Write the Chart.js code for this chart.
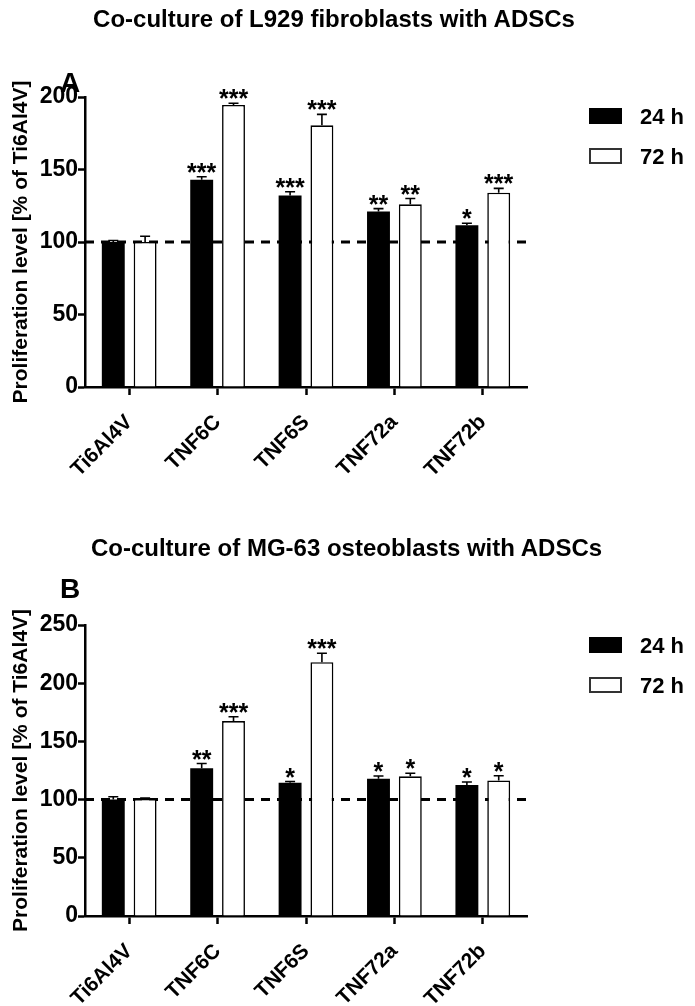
<!DOCTYPE html>
<html>
<head>
<meta charset="utf-8">
<script src="https://cdn.jsdelivr.net/npm/chart.js@4.4.1/dist/chart.umd.min.js"></script>
<style>
    body { margin: 0; background: #fff; font-family: "Liberation Sans", Arial, sans-serif; }
    #page { position: relative; width: 695px; height: 1006px; overflow: hidden; }
    .panel { position: absolute; left: 0; width: 695px; height: 503px; }
    .txt { position: absolute; font-weight: bold; color: #000; white-space: nowrap; }
    .title { font-size: 24px; line-height: 24px; left: 0; text-align: center; }
    .letter { font-size: 28px; }
    .legend { position: absolute; left: 589px; }
    .legend .item { position: relative; height: 40px; }
    .legend .box { position: absolute; left: 0; top: 0; width: 33px; height: 16px; box-sizing: border-box; border: 2px solid #333; }
    .legend .lab { position: absolute; left: 51px; top: -4px; font-size: 22px; font-weight: bold; white-space: nowrap; }
</style>
</head>
<body>
<div id="page">
    <div class="panel" style="top:0"><canvas id="chartA" width="695" height="503"></canvas></div>
    <div class="panel" style="top:503px"><canvas id="chartB" width="695" height="503"></canvas></div>

    <div class="txt title" style="top:7px;width:668px">Co-culture of L929 fibroblasts with ADSCs</div>
    <div class="txt letter" style="left:60px;top:67px">A</div>
    <div class="legend" id="legendA" style="top:108px"></div>

    <div class="txt title" style="top:536px;width:693px">Co-culture of MG-63 osteoblasts with ADSCs</div>
    <div class="txt letter" style="left:60px;top:573px">B</div>
    <div class="legend" id="legendB" style="top:637px"></div>
</div>
<script>
// 数据
const categories = ['Ti6Al4V', 'TNF6C', 'TNF6S', 'TNF72a', 'TNF72b'];
const seriesNames = ['24 h', '72 h'];
const seriesColors = ['#000000', '#ffffff'];

// A: L929 fibroblasts
const fibro24 = [100, 143, 132, 121, 111.5];
const fibro24Err = [1, 2, 2.7, 2, 1.4];
const fibro24Sig = ['', '***', '***', '**', '*'];
const fibro72 = [100, 194.5, 180.5, 126, 134];
const fibro72Err = [4, 1.2, 7.5, 4, 3];
const fibro72Sig = ['', '***', '***', '**', '***'];
const ticksA = [0, 50, 100, 150, 200];

// B: MG-63 osteoblasts
const osteo24 = [100, 127, 114.5, 118, 112.5];
const osteo24Err = [2.5, 4, 1, 2.3, 2.6];
const osteo24Sig = ['', '**', '*', '*', '*'];
const osteo72 = [100.5, 167.5, 218, 120, 116.5];
const osteo72Err = [0.8, 3.7, 7.7, 2.6, 4];
const osteo72Sig = ['', '***', '***', '*', '*'];
const ticksB = [0, 50, 100, 150, 200, 250];

const refValue = 100;
const yTitle = 'Proliferation level [% of Ti6Al4V]';

// 误差线和显著性星号
const errorBarPlugin = {
    id: 'errorBars',
    afterDatasetsDraw(chart) {
        const ctx = chart.ctx;
        const yScale = chart.scales.y;
        ctx.save();
        chart.data.datasets.forEach((ds, i) => {
            const meta = chart.getDatasetMeta(i);
            meta.data.forEach((bar, j) => {
                const yTop = yScale.getPixelForValue(ds.data[j] + ds.errors[j]);
                ctx.strokeStyle = '#000';
                ctx.lineWidth = 1.6;
                ctx.beginPath();
                ctx.moveTo(bar.x, bar.y);
                ctx.lineTo(bar.x, yTop);
                ctx.moveTo(bar.x - 5, yTop);
                ctx.lineTo(bar.x + 5, yTop);
                ctx.stroke();

                const sig = ds.stars[j];
                if (sig) {
                    ctx.font = 'bold 25px "Liberation Sans", Arial, sans-serif';
                    ctx.fillStyle = '#000';
                    ctx.textAlign = 'center';
                    ctx.textBaseline = 'alphabetic';
                    const m = ctx.measureText(sig);
                    ctx.fillText(sig, bar.x, yTop - 4 - m.actualBoundingBoxDescent);
                }
            });
        });
        ctx.restore();
    }
};

// 100% 参考虚线
const refLinePlugin = {
    id: 'refLine',
    beforeDatasetsDraw(chart) {
        const ctx = chart.ctx;
        const area = chart.chartArea;
        const y = chart.scales.y.getPixelForValue(refValue);
        ctx.save();
        ctx.strokeStyle = '#000';
        ctx.lineWidth = 3;
        ctx.setLineDash([9, 7]);
        ctx.beginPath();
        ctx.moveTo(area.left, y);
        ctx.lineTo(area.right, y);
        ctx.stroke();
        ctx.restore();
    }
};

function makeChart(id, d24, e24, s24, d72, e72, s72, tickValues, top, xHeight) {
    const font = 'Liberation Sans';
    return new Chart(document.getElementById(id), {
        type: 'bar',
        data: {
            labels: categories,
            datasets: [{
                label: seriesNames[0],
                data: d24,
                errors: e24,
                stars: s24,
                backgroundColor: seriesColors[0],
                borderColor: '#000',
                borderWidth: 0
            }, {
                label: seriesNames[1],
                data: d72,
                errors: e72,
                stars: s72,
                backgroundColor: seriesColors[1],
                borderColor: '#000',
                borderWidth: 1.6
            }]
        },
        options: {
            responsive: false,
            animation: false,
            events: [],
            layout: {
                padding: { left: 0, right: 168, top: top, bottom: 0 }
            },
            datasets: {
                bar: {
                    categoryPercentage: 0.72,
                    barPercentage: 0.72
                }
            },
            scales: {
                x: {
                    afterFit: s => { s.height = xHeight; },
                    grid: {
                        offset: false,
                        drawOnChartArea: false,
                        drawTicks: true,
                        tickLength: 8,
                        tickWidth: 2.5,
                        tickColor: '#000'
                    },
                    border: { display: true, color: '#000', width: 2.5 },
                    ticks: {
                        color: '#000',
                        maxRotation: 45,
                        minRotation: 45,
                        padding: 15,
                        font: { family: font, size: 21, weight: 'bold' }
                    }
                },
                y: {
                    min: tickValues[0],
                    max: tickValues[tickValues.length - 1],
                    afterFit: s => { s.width = 85; },
                    afterBuildTicks: s => { s.ticks = tickValues.map(v => ({ value: v })); },
                    grid: {
                        drawOnChartArea: false,
                        drawTicks: true,
                        tickLength: 7,
                        tickWidth: 2.5,
                        tickColor: '#000'
                    },
                    border: { display: true, color: '#000', width: 2.5 },
                    ticks: {
                        color: '#000',
                        padding: 0,
                        font: { family: font, size: 23, weight: 'bold' }
                    },
                    title: {
                        display: true,
                        text: yTitle,
                        color: '#000',
                        padding: { top: 9, bottom: 0 },
                        font: { family: font, size: 21, weight: 'bold' }
                    }
                }
            },
            plugins: {
                legend: { display: false },
                tooltip: { enabled: false }
            }
        },
        plugins: [refLinePlugin, errorBarPlugin]
    });
}

function buildLegend(id) {
    const el = document.getElementById(id);
    seriesNames.forEach((name, i) => {
        const item = document.createElement('div');
        item.className = 'item';
        const box = document.createElement('div');
        box.className = 'box';
        box.style.background = seriesColors[i];
        if (i === 0) box.style.borderColor = '#000';
        const lab = document.createElement('div');
        lab.className = 'lab';
        lab.textContent = name;
        item.appendChild(box);
        item.appendChild(lab);
        el.appendChild(item);
    });
}

makeChart('chartA', fibro24, fibro24Err, fibro24Sig, fibro72, fibro72Err, fibro72Sig, ticksA, 97, 116);
makeChart('chartB', osteo24, osteo24Err, osteo24Sig, osteo72, osteo72Err, osteo72Sig, ticksB, 122, 90);
buildLegend('legendA');
buildLegend('legendB');
</script>
</body>
</html>
